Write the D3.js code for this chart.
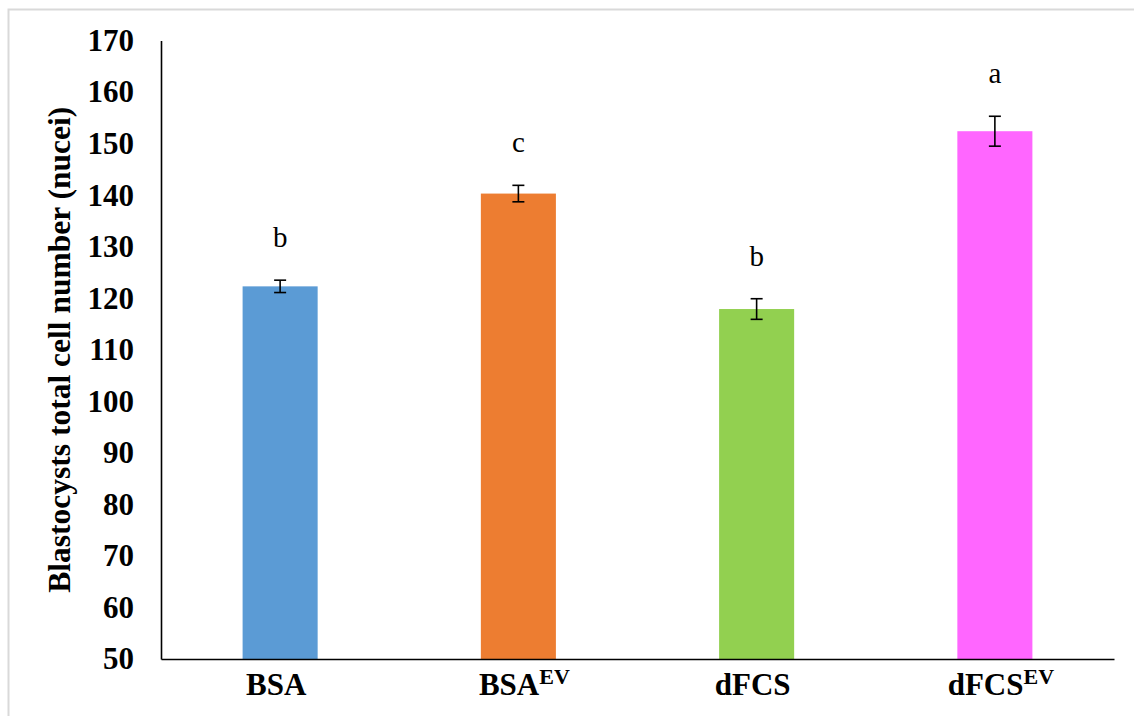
<!DOCTYPE html>
<html>
<head>
<meta charset="utf-8">
<script src="https://cdn.jsdelivr.net/npm/d3@7"></script>
<style>
  html, body { margin: 0; padding: 0; background: #fff; }
  svg { display: block; }
  text { font-family: "Liberation Serif", "Times New Roman", serif; }
</style>
</head>
<body>
<svg id="chart" width="1134" height="716"></svg>
<script>
// Treatment groups (base name + superscript)
const categories = ["BSA", "BSA_EV", "dFCS", "dFCS_EV"];
const labelBase = ["BSA", "BSA", "dFCS", "dFCS"];
const labelSup = ["", "EV", "", "EV"];
// Mean total cell number and error
const means = [122.3, 140.3, 117.9, 152.4];
const errors = [1.2, 1.6, 2.0, 2.9];
// Significance letters
const letters = ["b", "c", "b", "a"];
const barColors = ["#5B9BD5", "#ED7D31", "#92D050", "#FF66FF"];
// Y axis ticks
const yTicks = [50, 60, 70, 80, 90, 100, 110, 120, 130, 140, 150, 160, 170];

const svg = d3.select("#chart");

// Chart frame (light grey)
svg.append("path")
  .attr("d", "M8.5,716 V9.5 H1134")
  .attr("fill", "none")
  .attr("stroke", "#d9d9d9")
  .attr("stroke-width", 2);

const plot = { left: 161, right: 1114, top: 40.5, bottom: 659 };

const x = d3.scaleBand()
  .domain(categories)
  .range([plot.left, plot.right])
  .paddingInner(0.685)
  .paddingOuter(0.3425);

const y = d3.scaleLinear()
  .domain([50, 170])
  .range([plot.bottom, plot.top]);

// Bars
svg.append("g").selectAll("rect")
  .data(categories)
  .join("rect")
  .attr("x", d => x(d))
  .attr("width", x.bandwidth())
  .attr("y", (d, i) => y(means[i]))
  .attr("height", (d, i) => y(50) - y(means[i]))
  .attr("fill", (d, i) => barColors[i]);

// Error bars
const eb = svg.append("g").attr("stroke", "#000").attr("stroke-width", 1.6);
categories.forEach((c, i) => {
  const cx = x(c) + x.bandwidth() / 2;
  const y1 = y(means[i] + errors[i]);
  const y2 = y(means[i] - errors[i]);
  eb.append("line").attr("x1", cx).attr("x2", cx).attr("y1", y1).attr("y2", y2);
  eb.append("line").attr("x1", cx - 6).attr("x2", cx + 6).attr("y1", y1).attr("y2", y1);
  eb.append("line").attr("x1", cx - 6).attr("x2", cx + 6).attr("y1", y2).attr("y2", y2);
});

// Significance letters
svg.append("g").selectAll("text")
  .data(categories)
  .join("text")
  .attr("x", d => x(d) + x.bandwidth() / 2)
  .attr("y", (d, i) => y(means[i] + errors[i]) - 33)
  .attr("text-anchor", "middle")
  .attr("font-size", 29)
  .attr("fill", "#000")
  .text((d, i) => letters[i]);

// Y axis
const yAxis = d3.axisLeft(y).tickValues(yTicks).tickSize(0).tickPadding(27);
const gy = svg.append("g").attr("transform", `translate(${plot.left},0)`).call(yAxis);
gy.select(".domain").attr("stroke", "#000").attr("stroke-width", 1.6);
gy.selectAll("text")
  .attr("font-family", "'Liberation Serif', 'Times New Roman', serif")
  .attr("font-size", 31)
  .attr("font-weight", "bold")
  .attr("fill", "#000");

// X axis
const xAxis = d3.axisBottom(x).tickSize(0).tickFormat(() => "");
const gx = svg.append("g").attr("transform", `translate(0,${plot.bottom})`).call(xAxis);
gx.select(".domain").attr("stroke", "#000").attr("stroke-width", 1.6);
gx.selectAll(".tick").each(function(d, i) {
  const t = d3.select(this).append("text")
    .attr("y", 36)
    .attr("x", labelSup[i] ? 6 : -4)
    .attr("text-anchor", "middle")
    .attr("font-family", "'Liberation Serif', 'Times New Roman', serif")
    .attr("font-weight", "bold")
    .attr("font-size", 31)
    .attr("fill", "#000");
  t.append("tspan").text(labelBase[i]);
  if (labelSup[i]) {
    t.append("tspan").attr("font-size", 22).attr("dy", -11).text(labelSup[i]);
  }
});

// Y axis title
svg.append("text")
  .attr("transform", `translate(70,${(plot.top + plot.bottom) / 2}) rotate(-90)`)
  .attr("text-anchor", "middle")
  .attr("font-size", 31.5)
  .attr("font-weight", "bold")
  .attr("fill", "#000")
  .text("Blastocysts total cell number (nucei)");
</script>
</body>
</html>
